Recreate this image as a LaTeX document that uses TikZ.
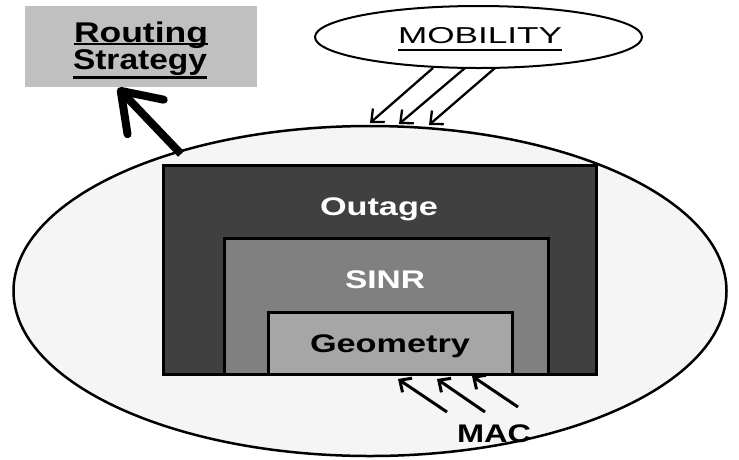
\documentclass[tikz,border=0pt]{standalone}
\usepackage{fontspec}
\setmainfont{Liberation Sans}
\usepackage{graphicx}
\usetikzlibrary{shapes.geometric,arrows.meta}
% stretch a label horizontally to a given width (in pt)
\newlength\fitwd
\newcommand\fitto[2]{\settowidth\fitwd{#2}\scalebox{\fpeval{#1/\fitwd}}[1]{#2}}
\begin{document}
\begin{tikzpicture}[x=1pt,y=-1pt,
  lbl/.style={inner sep=0pt, anchor=base},
  bigbold/.style={font=\bfseries\fontsize{25.5}{30}\selectfont},
  layer/.style={draw=black, line width=3pt, inner sep=0pt},
  thinarrow/.style={line width=2.3pt, -{Straight Barb[length=10pt,width=18pt]}},
  macarrow/.style={line width=3pt, -{Straight Barb[length=9pt,width=17pt]}},
  fatarrow/.style={line width=8pt, -{Straight Barb[length=36pt,width=50pt,round]}},
  uline/.style={line width=2.5pt}]
\useasboundingbox (0,0) rectangle (739,459);
\fill[white] (0,0) rectangle (739,459);

% outer scope ellipse
\node[ellipse, draw=black, line width=2.5pt, fill={rgb,255:red,245;green,245;blue,245},
      minimum width=713pt, minimum height=330pt, inner sep=0pt] (scope) at (370,291) {};

% nested layers
\node[layer, fill={rgb,255:red,64;green,64;blue,64}, minimum width=433pt, minimum height=209pt] (outbox) at (379.5,269.5) {};
\node[layer, fill={rgb,255:red,128;green,128;blue,128}, minimum width=324pt, minimum height=136pt] (sinrbox) at (386,306) {};
\node[layer, fill={rgb,255:red,166;green,166;blue,166}, minimum width=244pt, minimum height=62pt] (geobox) at (390,343) {};

\node[lbl, bigbold, text=white] (outage) at (379,215) {\fitto{118}{Outage}};
\node[lbl, bigbold, text=white] (sinr) at (385,288) {\fitto{80}{SINR}};
\node[lbl, bigbold] (geometry) at (390,352) {\fitto{160}{Geometry}};
\node[lbl, bigbold] (mac) at (494,442) {\fitto{74}{MAC}};

% routing strategy box
\node[fill={rgb,255:red,192;green,192;blue,192}, minimum width=232pt, minimum height=81pt, inner sep=0pt] (routebox) at (141,46.5) {};
\node[lbl, font=\bfseries\fontsize{28.5}{32}\selectfont] (routing) at (141,42) {\fitto{134}{Routing}};
\node[lbl, font=\bfseries\fontsize{28.5}{32}\selectfont] (strategy) at (140,69) {\fitto{134}{Strategy}};
\draw[uline] ([yshift=-2pt]routing.base west) -- ([yshift=-2pt]routing.base east);
\draw[uline] ([yshift=-8.5pt]strategy.base west) -- ([yshift=-8.5pt]strategy.base east);

% mobility
\node[ellipse, draw=black, line width=2pt, fill=white, minimum width=327pt, minimum height=62pt, inner sep=0pt] (mobell) at (478.5,37) {};
\node[lbl, font=\fontsize{23}{28}\selectfont] (mobility) at (480,43) {\fitto{164}{MOBILITY}};
\draw[uline] ([yshift=-7pt]mobility.base west) -- ([yshift=-7pt]mobility.base east);

% mobility arrows into the scope
\coordinate (m1s) at (433,68); \coordinate (m1e) at (370,123);
\coordinate (m2s) at (465,68); \coordinate (m2e) at (399,124);
\coordinate (m3s) at (495,68); \coordinate (m3e) at (429,125);
\draw[thinarrow] (m1s) -- (m1e);
\draw[thinarrow] (m2s) -- (m2e);
\draw[thinarrow] (m3s) -- (m3e);

% MAC arrows into the geometry layer
\coordinate (a1s) at (447,412); \coordinate (a1e) at (398,379);
\coordinate (a2s) at (485,412); \coordinate (a2e) at (437,379);
\coordinate (a3s) at (518,407); \coordinate (a3e) at (472,376);
\draw[macarrow] (a1s) -- (a1e);
\draw[macarrow] (a2s) -- (a2e);
\draw[macarrow] (a3s) -- (a3e);

% output arrow to routing strategy
\coordinate (rs) at (181,154); \coordinate (rtip) at (118,88);
\draw[fatarrow] (rs) -- (rtip);
\end{tikzpicture}
\end{document}
